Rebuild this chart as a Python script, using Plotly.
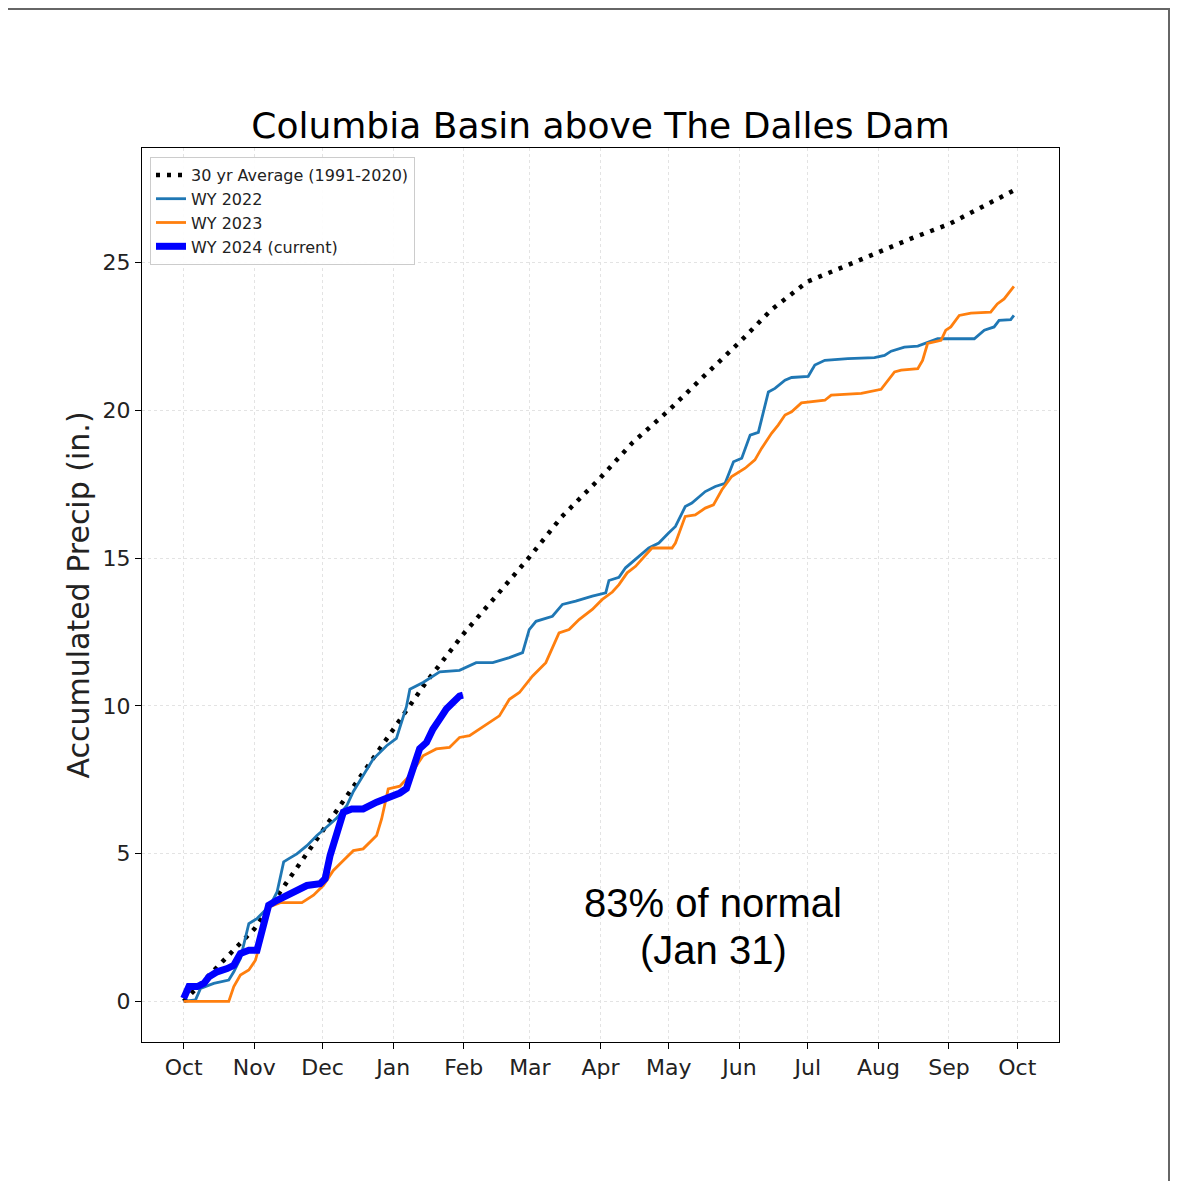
import pandas as pd
import plotly.graph_objects as go

# ---- data (day of water year, accumulated precip in inches) ----
month_ticks = ["2023-10-01", "2023-11-01", "2023-12-01", "2024-01-01", "2024-02-01",
               "2024-03-01", "2024-04-01", "2024-05-01", "2024-06-01", "2024-07-01",
               "2024-08-01", "2024-09-01", "2024-10-01"]
month_labels = ["Oct", "Nov", "Dec", "Jan", "Feb", "Mar", "Apr", "May", "Jun", "Jul",
                "Aug", "Sep", "Oct"]
y_ticks = [0, 5, 10, 15, 20, 25]

avg_days = [0, 14, 31, 45, 61, 75, 92, 106, 123, 137, 152, 166, 183, 197, 213, 227,
            244, 258, 274, 288, 305, 319, 336, 350, 366]
avg_vals = [0, 1.1, 2.45, 4.0, 5.75, 7.3, 9.2, 10.75, 12.45, 13.7, 15.05, 16.4, 17.72,
            18.9, 20.0, 21.05, 22.3, 23.4, 24.36, 24.8, 25.35, 25.8, 26.3, 26.85, 27.5]

wy22_days = [0, 5.2, 7.4, 13.2, 19.8, 22, 24.9, 28.6, 32.2, 35.1, 38, 41, 43.9, 46, 49.7,
             54.1, 58.5, 62.8, 67.2, 71.6, 74.5, 83.2, 89.1, 93.4, 97.8, 99.3, 105.1,
             112.4, 121.1, 128.4, 135.7, 143, 148.8, 151.7, 154.7, 161.9, 166.3, 172.1,
             179.4, 185.3, 186.7, 191.1, 194, 204.2, 208.6, 212.9, 215.9, 220.2, 223.1,
             229, 233.4, 237.7, 241.4, 245, 248.7, 252.3, 253.7, 256.7, 259.6, 264,
             266.9, 274.2, 277.1, 281.5, 291.6, 303.3, 307.7, 310.6, 316.4, 322.3, 331,
             347.1, 351.5, 355.8, 358, 363.1, 364.5]
wy22_vals = [0, 0.05, 0.44, 0.61, 0.72, 1.0, 1.45, 2.63, 2.8, 3.03, 3.25, 3.7, 4.72, 4.82,
             4.99, 5.27, 5.61, 5.9, 6.2, 6.62, 7.1, 8.2, 8.65, 8.9, 9.97, 10.56, 10.79,
             11.15, 11.2, 11.46, 11.46, 11.63, 11.8, 12.58, 12.86, 13.03, 13.43, 13.54,
             13.71, 13.82, 14.24, 14.35, 14.67, 15.34, 15.51, 15.85, 16.07, 16.74, 16.86,
             17.25, 17.42, 17.53, 18.26, 18.38, 19.16, 19.25, 19.67, 20.62, 20.74, 21.02,
             21.11, 21.15, 21.53, 21.69, 21.75, 21.78, 21.86, 22.0, 22.14, 22.17, 22.42,
             22.42, 22.71, 22.82, 23.04, 23.07, 23.21]

wy23_days = [0, 19.8, 22, 24.9, 28.6, 31.5, 33.7, 35.1, 37.3, 42.4, 51.9, 57, 61.3, 65.7,
             70.1, 74.5, 78.8, 81.8, 84.7, 86.9, 88.8, 89.8, 94.9, 99.3, 105.1, 110.9,
             116.7, 121.1, 125.5, 129.9, 134.2, 138.6, 143, 147.4, 153.2, 159, 164.8,
             169.2, 173.6, 179.4, 183.8, 188.2, 191.1, 194.7, 198.4, 205.6, 214.4, 215.9,
             220.2, 224.6, 229, 232.6, 236.3, 240.6, 246.5, 250.8, 253.7, 258.1, 261,
             264, 266.9, 271.2, 281.5, 284.3, 297.5, 306.2, 312.1, 315, 322.3, 324.4,
             326.6, 332.5, 334.6, 336.8, 340.5, 345.6, 354.3, 357.2, 360.2, 364.5]
wy23_vals = [0, 0, 0.5, 0.89, 1.06, 1.39, 2.01, 2.69, 3.19, 3.34, 3.34, 3.59, 3.92, 4.43,
             4.77, 5.1, 5.16, 5.39, 5.61, 6.17, 6.85, 7.19, 7.28, 7.64, 8.31, 8.54, 8.59,
             8.93, 8.99, 9.21, 9.44, 9.66, 10.22, 10.45, 11.01, 11.46, 12.47, 12.58,
             12.92, 13.26, 13.6, 13.85, 14.1, 14.5, 14.72, 15.34, 15.34, 15.51, 16.41,
             16.46, 16.69, 16.8, 17.31, 17.76, 18.04, 18.32, 18.71, 19.22, 19.5, 19.84,
             19.95, 20.25, 20.34, 20.51, 20.57, 20.71, 21.3, 21.36, 21.41, 21.69, 22.26,
             22.37, 22.71, 22.82, 23.21, 23.29, 23.32, 23.6, 23.77, 24.19]

wy24_days = [0, 2.3, 6, 8.9, 11.1, 14.7, 19.1, 22, 24.9, 28.6, 32.2, 34.4, 35.9, 37.3, 41,
             45.3, 49.7, 54.1, 59.9, 62.1, 64.3, 67.2, 70.1, 73.8, 78.8, 84.7, 90.5, 94.9,
             97.8, 100.7, 103.6, 106.6, 109.4, 112.4, 115.3, 118.2, 121.1, 122.6]
wy24_vals = [0.1, 0.5, 0.5, 0.61, 0.83, 1.0, 1.11, 1.22, 1.62, 1.73, 1.73, 2.35, 2.86,
             3.25, 3.42, 3.59, 3.75, 3.92, 3.98, 4.15, 4.94, 5.73, 6.4, 6.51, 6.51, 6.74,
             6.91, 7.05, 7.2, 7.9, 8.55, 8.76, 9.21, 9.55, 9.89, 10.11, 10.33, 10.36]

title_text = "Columbia Basin above The Dalles Dam"
note_line1 = "83% of normal"
note_line2 = "(Jan 31)"

base = pd.Timestamp("2023-10-01")


def to_dates(days):
    return base + pd.to_timedelta(days, unit="D")


fig = go.Figure()
fig.add_trace(go.Scatter(x=to_dates(avg_days), y=avg_vals, mode="lines",
                         name="30 yr Average (1991-2020)",
                         line=dict(color="black", width=4.5, dash="4px,7px")))
fig.add_trace(go.Scatter(x=to_dates(wy22_days), y=wy22_vals, mode="lines", name="WY 2022",
                         line=dict(color="#1f77b4", width=2.8)))
fig.add_trace(go.Scatter(x=to_dates(wy23_days), y=wy23_vals, mode="lines", name="WY 2023",
                         line=dict(color="#ff7f0e", width=2.8)))
fig.add_trace(go.Scatter(x=to_dates(wy24_days), y=wy24_vals, mode="lines",
                         name="WY 2024 (current)",
                         line=dict(color="#0000ff", width=7)))

x0 = base - pd.Timedelta(days=18.3)
x1 = pd.Timestamp("2024-10-01") + pd.Timedelta(days=18.3)

axis_common = dict(showline=True, linecolor="black", linewidth=1, mirror=True,
                   ticks="outside", ticklen=6, tickcolor="black",
                   showgrid=True, gridcolor="#e3e3e3", griddash="dot", gridwidth=1,
                   zeroline=False,
                   tickfont=dict(family="DejaVu Sans", size=22, color="#222"))

fig.update_xaxes(type="date", range=[x0, x1], tickvals=month_ticks, ticktext=month_labels,
                 **axis_common)
fig.update_yaxes(range=[-1.375, 28.875], tickvals=y_ticks,
                 title=dict(text="Accumulated Precip (in.)",
                            font=dict(family="DejaVu Sans", size=30, color="#222"),
                            standoff=4),
                 **axis_common)

# page has an 8px body margin: figure sized to fit inside the window
W, H = 1162, 1173
ML, MR, MT, MB = 134, 111, 140, 139
pw, ph = float(W - ML - MR), float(H - MT - MB)


def px(xp):  # page pixel x -> paper x
    return (xp - 8 - ML) / pw


def py(yp):  # page pixel y -> paper y
    return (H - MB - (yp - 8)) / ph


# image border (top and right edges)
fig.add_shape(type="line", xref="paper", yref="paper",
              x0=px(8), x1=px(1170), y0=py(9), y1=py(9),
              line=dict(color="#666", width=2))
fig.add_shape(type="line", xref="paper", yref="paper",
              x0=px(1169), x1=px(1169), y0=py(8), y1=py(1181),
              line=dict(color="#666", width=2))

fig.add_annotation(text=note_line1, xref="paper", yref="paper",
                   x=px(713), y=py(903), showarrow=False,
                   xanchor="center", yanchor="middle",
                   font=dict(family="Liberation Sans", size=40, color="black"))
fig.add_annotation(text=note_line2, xref="paper", yref="paper",
                   x=px(713), y=py(950), showarrow=False,
                   xanchor="center", yanchor="middle",
                   font=dict(family="Liberation Sans", size=40, color="black"))

fig.update_layout(
    width=W, height=H,
    margin=dict(l=ML, r=MR, t=MT, b=MB),
    paper_bgcolor="white", plot_bgcolor="white",
    title=dict(text=title_text, x=0.5, xref="paper", y=1 - (125 - 8) / H, yref="container",
               xanchor="center", yanchor="middle",
               font=dict(family="DejaVu Sans", size=36, color="black")),
    showlegend=True,
    legend=dict(x=px(150), y=py(157), xanchor="left", yanchor="top",
                bgcolor="rgba(255,255,255,0.9)", bordercolor="#cccccc", borderwidth=1,
                font=dict(family="DejaVu Sans", size=16, color="#222"),
                itemwidth=30, tracegroupgap=0),
)

fig.write_html("out.html")
